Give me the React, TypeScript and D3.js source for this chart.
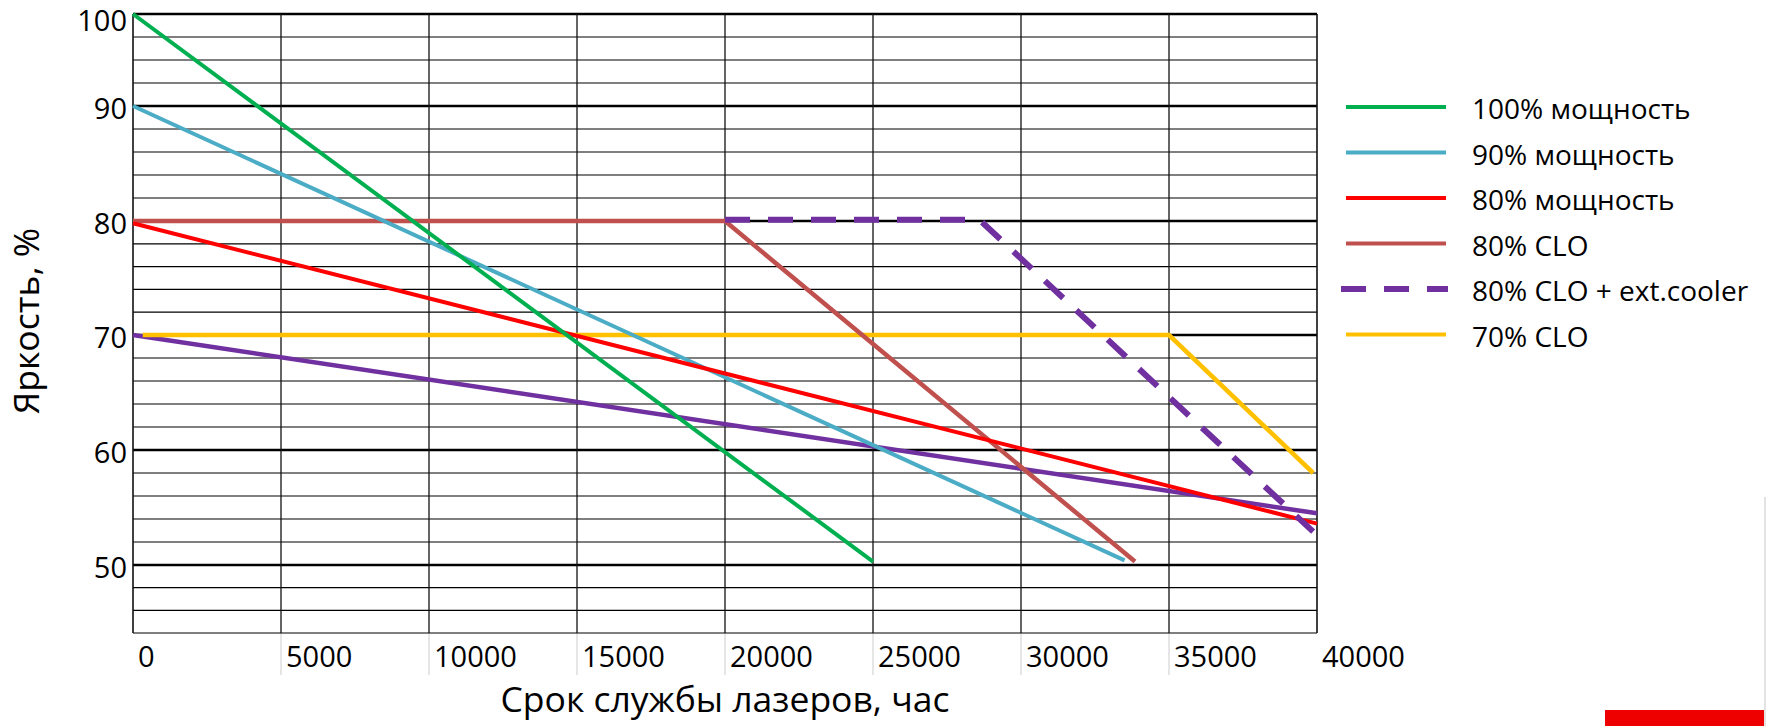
import React from "react";
import * as d3 from "d3";

// ---- data ----
const xTickValues = [0, 5000, 10000, 15000, 20000, 25000, 30000, 35000, 40000];
const yTickValues = [50, 60, 70, 80, 90, 100];

const green100 = [
  { h: 0, v: 100 },
  { h: 25000, v: 50.3 },
];
const blue90 = [
  { h: 0, v: 90 },
  { h: 33500, v: 50.4 },
];
const red80 = [
  { h: 0, v: 79.8 },
  { h: 40000, v: 53.6 },
];
const brown80clo = [
  { h: 0, v: 80 },
  { h: 20000, v: 80 },
  { h: 33850, v: 50.3 },
];
const purple80cloCooler = [
  { h: 20000, v: 80.1 },
  { h: 28600, v: 80.1 },
  { h: 39870, v: 52.9 },
];
const purple70 = [
  { h: 0, v: 70 },
  { h: 40000, v: 54.5 },
];
const yellow70clo = [
  { h: 330, v: 70 },
  { h: 35000, v: 70 },
  { h: 39870, v: 58 },
];

const legendLabels = [
  "100% мощность",
  "90% мощность",
  "80% мощность",
  "80% CLO",
  "80% CLO + ext.cooler",
  "70% CLO",
];
const legendColors = ["#00b050", "#4bacc6", "#ff0000", "#c0504d", "#7030a0", "#ffc000"];
const legendDashed = [false, false, false, false, true, false];

const xTitle = "Срок службы лазеров, час";
const yTitle = "Яркость, %";

const FONT = "'Open Sans', 'Noto Sans', sans-serif";

export default function App() {
  const W = 1767;
  const H = 726;
  const left = 133;
  const right = 1317;
  const top = 14;
  const bottom = 633;

  const x = d3.scaleLinear().domain([0, 40000]).range([left, right]);
  // the source picture uses a slightly compressed band between 90 and 100
  const y = d3
    .scaleLinear()
    .domain([44, 50, 60, 70, 80, 90, 100])
    .range([bottom, 565, 450, 335, 221, 106, top]);

  const gridVals = d3.range(44, 90, 2).concat([90, 92.5, 95, 97.5, 100]);
  const majors = new Set([50, 60, 70, 80, 90, 100]);

  const line = d3
    .line<{ h: number; v: number }>()
    .x((d) => x(d.h))
    .y((d) => y(d.v));

  const series = [
    { data: purple70, color: "#7030a0", w: 4.5, dash: undefined },
    { data: yellow70clo, color: "#ffc000", w: 4.5, dash: undefined },
    { data: brown80clo, color: "#c0504d", w: 4.5, dash: undefined },
    { data: blue90, color: "#4bacc6", w: 4, dash: undefined },
    { data: red80, color: "#ff0000", w: 4, dash: undefined },
    { data: green100, color: "#00b050", w: 4, dash: undefined },
    { data: purple80cloCooler, color: "#7030a0", w: 6, dash: "25 18" },
  ];

  const legX1 = 1346;
  const legX2 = 1446;
  const legY0 = 107;
  const legStep = 45.5;

  return (
    <svg
      width={W}
      height={H}
      style={{ position: "absolute", left: 0, top: 0, display: "block", background: "#fff" }}
    >
      {/* light gray extensions of vertical grid below plot */}
      {xTickValues.slice(1, -1).map((t) => (
        <line key={"ext" + t} x1={x(t)} x2={x(t)} y1={bottom} y2={675} stroke="#d9d9d9" strokeWidth={1.3} />
      ))}
      {/* horizontal grid */}
      {gridVals.map((g) => (
        <line
          key={"h" + g}
          x1={left}
          x2={right}
          y1={y(g)}
          y2={y(g)}
          stroke="#000"
          strokeWidth={majors.has(g) ? 2.6 : 1.2}
        />
      ))}
      {/* vertical grid */}
      {xTickValues.map((t) => (
        <line
          key={"v" + t}
          x1={x(t)}
          x2={x(t)}
          y1={top}
          y2={bottom}
          stroke="#111"
          strokeWidth={t === 0 || t === 40000 ? 1.6 : 1.3}
        />
      ))}

      {/* series */}
      {series.map((s, i) => (
        <path
          key={"s" + i}
          d={line(s.data) || ""}
          fill="none"
          stroke={s.color}
          strokeWidth={s.w}
          strokeDasharray={s.dash}
          strokeLinejoin="miter"
        />
      ))}

      {/* y tick labels */}
      {yTickValues.map((t) => (
        <text
          key={"yl" + t}
          x={127}
          y={Math.max(y(t) + 12.5, 31)}
          textAnchor="end"
          fontFamily={FONT}
          fontSize={29}
          fill="#000"
        >
          {t}
        </text>
      ))}
      {/* x tick labels */}
      {xTickValues.map((t) => (
        <text key={"xl" + t} x={x(t) + 5} y={667} fontFamily={FONT} fontSize={29} fill="#000">
          {t}
        </text>
      ))}

      {/* axis titles */}
      <text x={725} y={712} textAnchor="middle" fontFamily={FONT} fontSize={35.5} fill="#000">
        {xTitle}
      </text>
      <text
        transform="translate(39,321) rotate(-90)"
        textAnchor="middle"
        fontFamily={FONT}
        fontSize={35.5}
        fill="#000"
      >
        {yTitle}
      </text>

      {/* legend */}
      {legendLabels.map((lab, i) => {
        const ly = legY0 + i * legStep;
        return (
          <g key={"lg" + i}>
            <line
              x1={legendDashed[i] ? 1341 : legX1}
              x2={legendDashed[i] ? 1448 : legX2}
              y1={ly}
              y2={ly}
              stroke={legendColors[i]}
              strokeWidth={legendDashed[i] ? 6 : 4}
              strokeDasharray={legendDashed[i] ? "25 18" : undefined}
            />
            <text x={1472} y={ly + 12} fontFamily={FONT} fontSize={28} fill="#000">
              {lab}
            </text>
          </g>
        );
      })}

      {/* decorative elements at the picture edge */}
      <line x1={1765} x2={1765} y1={497} y2={H} stroke="#d0d0d0" strokeWidth={1.2} />
      <rect x={1605} y={710} width={159} height={16} fill="#ee0000" />
    </svg>
  );
}
